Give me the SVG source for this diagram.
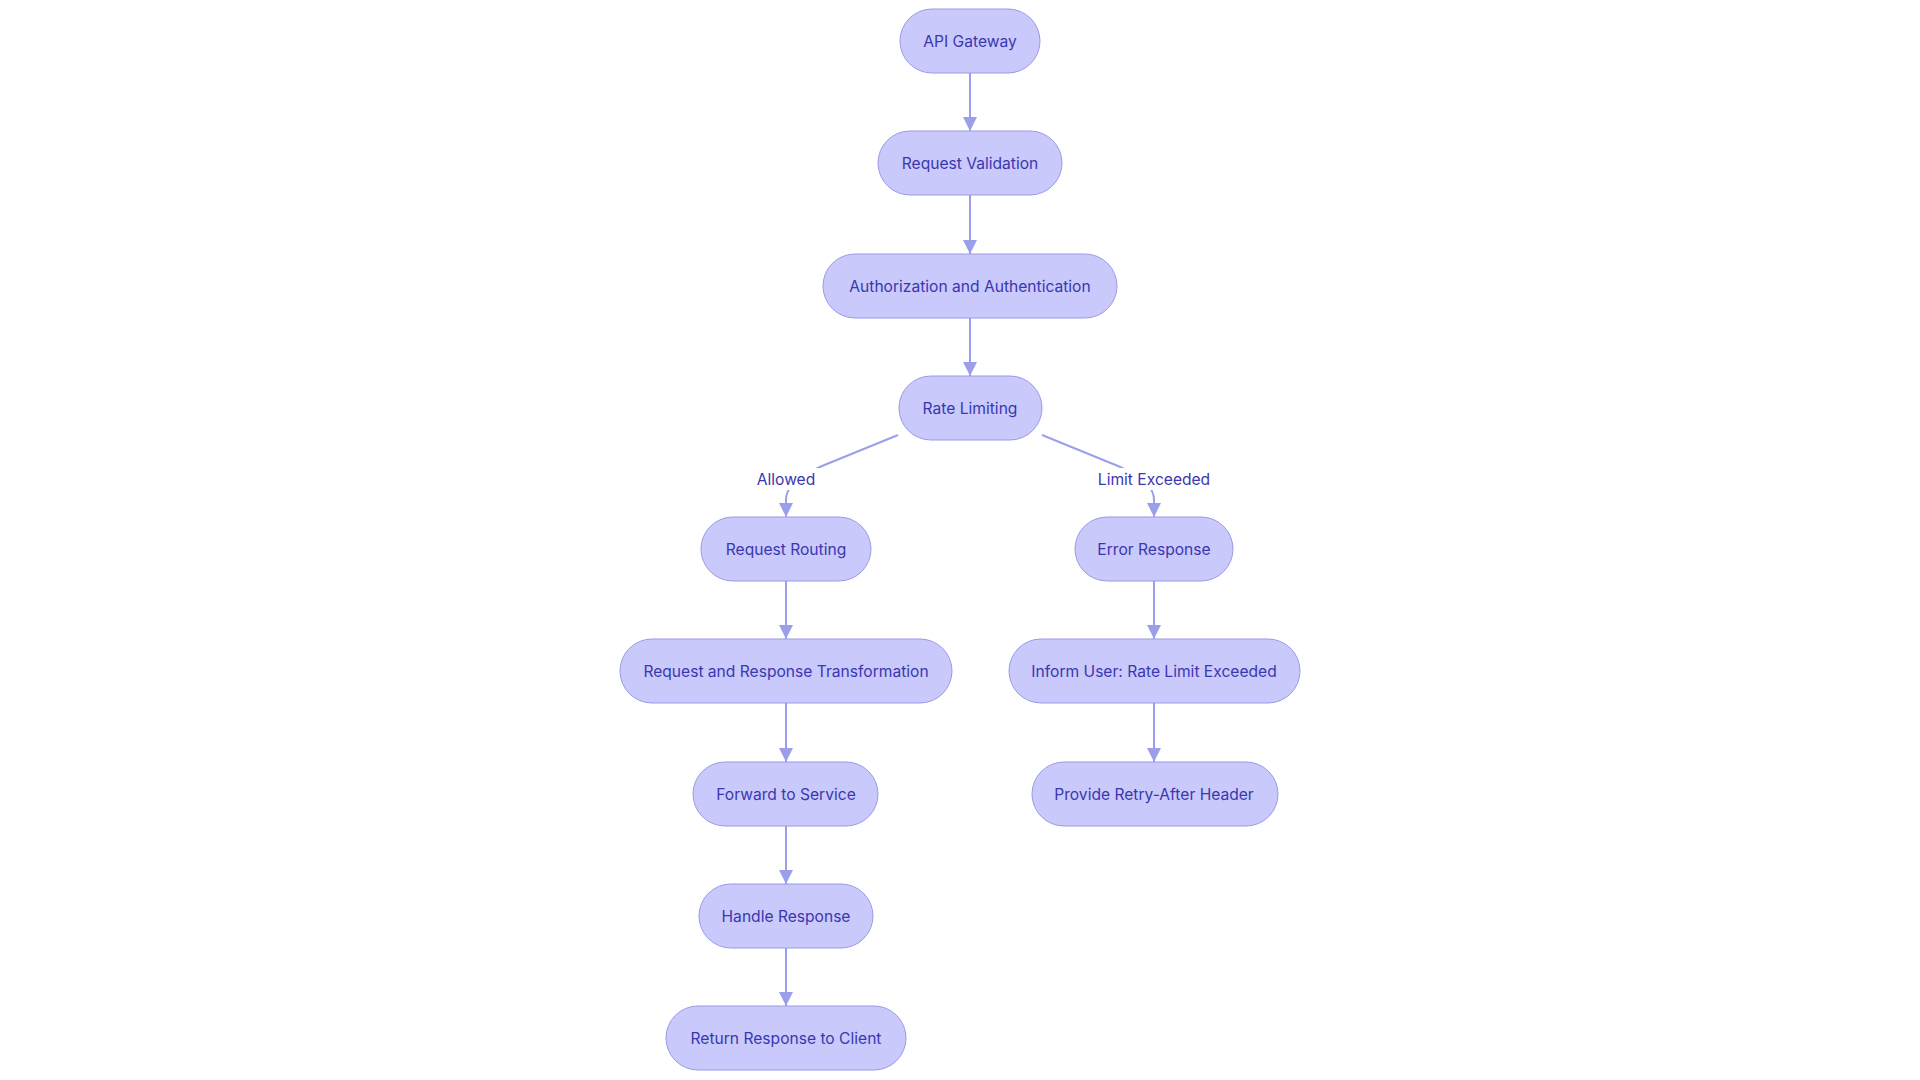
<svg xmlns="http://www.w3.org/2000/svg" width="1920" height="1080" viewBox="0 0 1920 1080">
<style>
.node rect{fill:#c9c9fb;stroke:#9a9ae6;stroke-width:1}
.node text,.lbl text{font-family:Inter,"Noto Sans","Liberation Sans",sans-serif;font-size:15.6px;fill:#3a37b0;text-anchor:middle;dominant-baseline:central}
.edge{fill:none;stroke:#9b9feb;stroke-width:2}
.lbl rect{fill:#ffffff}
</style>
<defs>
<marker id="arr" viewBox="0 0 10 10" refX="10" refY="5" markerUnits="userSpaceOnUse" markerWidth="14.5" markerHeight="14.5" orient="auto">
<path d="M0,0 L10,5 L0,10 z" fill="#9b9feb"/>
</marker>
</defs>
<rect width="1920" height="1080" fill="#ffffff"/>
<g id="connectors">
<path class="edge" d="M970,73 L970,131" marker-end="url(#arr)"/>
<path class="edge" d="M970,195 L970,254" marker-end="url(#arr)"/>
<path class="edge" d="M970,318 L970,376" marker-end="url(#arr)"/>
<path class="edge" d="M898,435 L822,466 C792,479 786,490 786,500 L786,517" marker-end="url(#arr)"/>
<path class="edge" d="M1042,435 L1118,466 C1148,479 1154,490 1154,500 L1154,517" marker-end="url(#arr)"/>
<path class="edge" d="M786,581 L786,639" marker-end="url(#arr)"/>
<path class="edge" d="M786,703 L786,762" marker-end="url(#arr)"/>
<path class="edge" d="M786,826 L786,884" marker-end="url(#arr)"/>
<path class="edge" d="M786,948 L786,1006" marker-end="url(#arr)"/>
<path class="edge" d="M1154,581 L1154,639" marker-end="url(#arr)"/>
<path class="edge" d="M1154,703 L1154,762" marker-end="url(#arr)"/>
<g class="lbl"><rect x="753" y="468" width="66" height="22"/><text x="786" y="479">Allowed</text></g>
<g class="lbl"><rect x="1097" y="468" width="114" height="22"/><text x="1154" y="479">Limit Exceeded</text></g>
</g>
<g id="n1" class="node"><rect x="900" y="9" width="140" height="64" rx="32"/><text x="970" y="41">API Gateway</text></g>
<g id="n2" class="node"><rect x="878" y="131" width="184" height="64" rx="32"/><text x="970" y="163">Request Validation</text></g>
<g id="n3" class="node"><rect x="823" y="254" width="294" height="64" rx="32"/><text x="970" y="286">Authorization and Authentication</text></g>
<g id="n4" class="node"><rect x="899" y="376" width="143" height="64" rx="32"/><text x="970" y="408">Rate Limiting</text></g>
<g id="n5" class="node"><rect x="701" y="517" width="170" height="64" rx="32"/><text x="786" y="549">Request Routing</text></g>
<g id="n6" class="node"><rect x="620" y="639" width="332" height="64" rx="32"/><text x="786" y="671">Request and Response Transformation</text></g>
<g id="n7" class="node"><rect x="693" y="762" width="185" height="64" rx="32"/><text x="786" y="794">Forward to Service</text></g>
<g id="n8" class="node"><rect x="699" y="884" width="174" height="64" rx="32"/><text x="786" y="916">Handle Response</text></g>
<g id="n9" class="node"><rect x="666" y="1006" width="240" height="64" rx="32"/><text x="786" y="1038">Return Response to Client</text></g>
<g id="n10" class="node"><rect x="1075" y="517" width="158" height="64" rx="32"/><text x="1154" y="549">Error Response</text></g>
<g id="n11" class="node"><rect x="1009" y="639" width="291" height="64" rx="32"/><text x="1154" y="671">Inform User: Rate Limit Exceeded</text></g>
<g id="n12" class="node"><rect x="1032" y="762" width="246" height="64" rx="32"/><text x="1154" y="794">Provide Retry-After Header</text></g>
</svg>
